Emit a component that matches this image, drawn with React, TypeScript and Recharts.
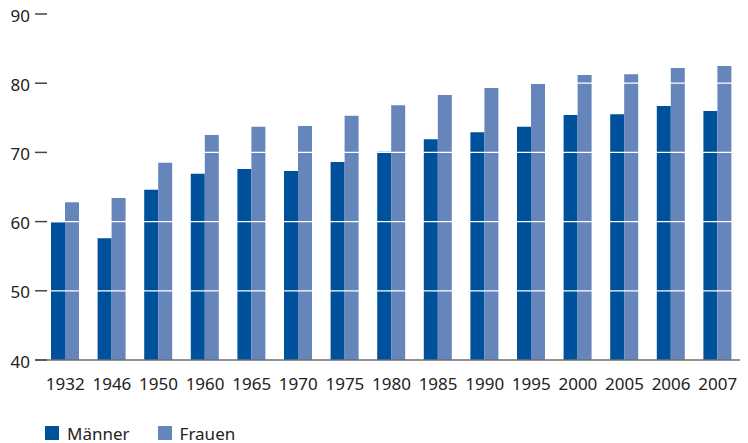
import { Bar, BarChart, Legend, ReferenceLine, XAxis, YAxis } from "recharts";

const years = ["1932", "1946", "1950", "1960", "1965", "1970", "1975", "1980", "1985", "1990", "1995", "2000", "2005", "2006", "2007"];
const maenner = [59.9, 57.6, 64.6, 66.9, 67.6, 67.3, 68.6, 70.1, 71.9, 72.9, 73.7, 75.4, 75.5, 76.7, 76.0];
const frauen = [62.8, 63.4, 68.5, 72.5, 73.7, 73.8, 75.3, 76.8, 78.3, 79.3, 79.9, 81.2, 81.3, 82.2, 82.5];
const yTicks = [40, 50, 60, 70, 80, 90];
const gridValues = [50, 60, 70, 80];

const data = years.map((year, i) => ({ year, maenner: maenner[i], frauen: frauen[i] }));

const DARK = "#00519b";
const LIGHT = "#6685ba";
const TEXT = "#222222";
const FONT = "'Noto Sans', sans-serif";

function YTick({ x, y, payload }: any) {
  return (
    <g>
      <text x={x - 5} y={y + 1} textAnchor="end" dominantBaseline="central" fontSize={17} fill={TEXT} fontFamily={FONT}>
        {payload.value}
      </text>
      <line x1={x} x2={x + 12} y1={y} y2={y} stroke="#444" strokeWidth={1.5} />
    </g>
  );
}

function LegendBox() {
  const items = [
    { label: "Männer", color: DARK },
    { label: "Frauen", color: LIGHT },
  ];
  return (
    <div style={{ display: "flex", alignItems: "center", height: 20, paddingLeft: 45, fontFamily: FONT, fontSize: 17, color: TEXT }}>
      {items.map((it) => (
        <div key={it.label} style={{ display: "flex", alignItems: "center", marginRight: 28 }}>
          <span style={{ width: 14, height: 14, background: it.color, display: "inline-block", marginRight: 8 }} />
          <span>{it.label}</span>
        </div>
      ))}
    </div>
  );
}

export default function App() {
  return (
    <div style={{ margin: "-8px 0 0 -8px", width: 748, height: 443 }}>
      <BarChart
        width={748}
        height={443}
        data={data}
        margin={{ top: 14, right: 0, bottom: 0, left: 0 }}
        barSize={14}
        barGap={0}
      >
        <XAxis
          dataKey="year"
          height={63}
          padding={{ left: 7, right: 7 }}
          tickLine={false}
          tickSize={0}
          tickMargin={18}
          axisLine={{ stroke: "#6e6e6e", strokeWidth: 1.5 }}
          tick={{ fontSize: 17, fill: TEXT, fontFamily: FONT }}
          interval={0}
        />
        <YAxis
          width={35}
          domain={[40, 90]}
          ticks={yTicks}
          axisLine={false}
          tickLine={false}
          tickSize={0}
          tickMargin={0}
          tick={<YTick />}
          interval={0}
        />
        <Bar dataKey="maenner" name="Männer" fill={DARK} isAnimationActive={false} />
        <Bar dataKey="frauen" name="Frauen" fill={LIGHT} isAnimationActive={false} />
        {gridValues.map((v) => (
          <ReferenceLine key={v} y={v} stroke="#ffffff" strokeWidth={1.2} />
        ))}
        <Legend verticalAlign="bottom" align="left" content={<LegendBox />} />
      </BarChart>
    </div>
  );
}
